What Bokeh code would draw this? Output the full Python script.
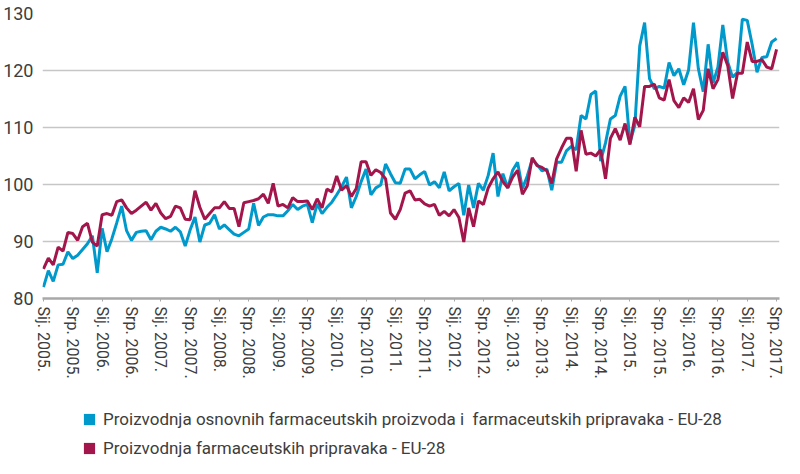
from bokeh.plotting import figure
from bokeh.layouts import column
from bokeh.models import Range1d, FixedTicker, Legend, LegendItem
from bokeh.embed import file_html
from bokeh.resources import INLINE

# ---- data -----------------------------------------------------------------
tick_labels = ["Sij. 2005.", "Srp. 2005.", "Sij. 2006.", "Srp. 2006.", "Sij. 2007.", "Srp. 2007.",
               "Sij. 2008.", "Srp. 2008.", "Sij. 2009.", "Srp. 2009.", "Sij. 2010.", "Srp. 2010.",
               "Sij. 2011.", "Srp. 2011.", "Sij. 2012.", "Srp. 2012.", "Sij. 2013.", "Srp. 2013.",
               "Sij. 2014.", "Srp. 2014.", "Sij. 2015.", "Srp. 2015.", "Sij. 2016.", "Srp. 2016.",
               "Sij. 2017.", "Srp. 2017."]

name_basic = "Proizvodnja osnovnih farmaceutskih proizvoda i  farmaceutskih pripravaka - EU-28"
name_prep = "Proizvodnja farmaceutskih pripravaka - EU-28"

# monthly index values, Jan 2005 .. Jul 2017
basic = [82.0, 84.9, 83.0, 85.9, 86.0, 88.2, 87.0, 87.6, 88.6, 89.6, 91.0, 84.5,
         92.3, 88.2, 90.5, 93.3, 96.2, 91.9, 90.2, 91.6, 91.8, 91.9, 90.3, 91.8,
         92.5, 92.2, 91.8, 92.5, 91.7, 89.2, 92.0, 94.3, 89.9, 92.9, 93.2, 94.7,
         92.2, 92.9, 92.1, 91.3, 91.0, 91.6, 92.2, 96.7, 92.8, 94.3, 94.7, 94.7,
         94.5, 94.5, 95.4, 96.5, 95.6, 96.2, 96.5, 93.3, 96.6, 94.9, 96.0, 96.9,
         98.2, 99.6, 101.3, 95.9, 97.9, 100.5, 102.7, 98.2, 99.4, 99.9, 103.6, 101.9,
         100.3, 100.2, 102.7, 102.7, 101.0, 101.7, 102.3, 99.9, 100.5, 99.4, 102.2, 98.9,
         99.6, 100.2, 94.6, 99.9, 95.9, 100.2, 99.0, 101.6, 105.5, 97.9, 101.9, 99.4,
         102.5, 103.9, 99.3, 101.5, 104.4, 103.5, 102.4, 102.7, 99.0, 103.9, 103.9, 105.9,
         106.7, 106.1, 112.1, 111.5, 115.8, 116.4, 104.1, 107.3, 111.5, 112.1, 115.5, 117.2,
         107.3, 110.4, 124.3, 128.4, 118.6, 116.8, 117.2, 116.9, 121.4, 119.1, 120.3, 117.5,
         120.1, 128.4, 120.3, 116.3, 124.6, 117.8, 120.6, 128.0, 121.5, 118.8, 119.7, 129.0,
         128.8, 124.6, 119.7, 122.3, 122.4, 125.0, 125.6]

prep = [85.2, 87.1, 85.9, 89.0, 88.3, 91.6, 91.4, 90.2, 92.6, 93.2, 89.9, 89.2,
        94.7, 94.9, 94.6, 97.0, 97.3, 95.9, 94.9, 95.5, 96.2, 96.9, 95.5, 96.7,
        95.0, 94.0, 94.4, 96.2, 95.9, 93.9, 93.8, 98.9, 96.0, 93.9, 94.9, 95.9,
        95.9, 97.0, 95.8, 95.8, 92.6, 96.8, 97.0, 97.2, 97.5, 98.3, 96.7, 100.2,
        96.2, 96.5, 95.9, 97.7, 97.0, 97.0, 97.1, 95.6, 97.5, 95.9, 99.2, 98.7,
        101.5, 99.0, 99.8, 97.9, 99.3, 104.0, 104.0, 101.6, 102.6, 102.1, 101.0, 95.0,
        93.9, 95.6, 98.5, 98.9, 97.3, 97.4, 96.6, 96.2, 96.5, 94.6, 95.3, 94.5,
        95.6, 94.2, 89.9, 95.9, 92.6, 97.1, 96.5, 99.4, 101.0, 102.2, 100.5, 99.4,
        101.3, 102.5, 98.3, 99.8, 104.7, 103.3, 103.0, 102.4, 100.2, 104.5, 106.4, 108.1,
        108.1, 102.3, 109.5, 105.3, 105.5, 105.0, 106.1, 101.0, 108.1, 109.8, 107.8, 110.7,
        107.0, 111.8, 110.1, 117.2, 117.2, 117.6, 115.2, 114.8, 118.4, 114.7, 113.5, 115.2,
        114.4, 116.8, 111.4, 113.0, 120.3, 116.8, 118.4, 123.2, 120.9, 115.1, 119.5, 119.5,
        125.0, 121.6, 121.6, 121.9, 120.6, 120.3, 123.7]

y_ticks = [80, 90, 100, 110, 120, 130]

months = list(range(len(basic)))
tick_pos = [6 * k for k in range(len(tick_labels))]

BLUE = "#0099CC"
RED = "#A3164B"
FONT = "Roboto"
TXT = "#3d3d3d"

p = figure(width=784, height=392, output_backend="svg", toolbar_location=None,
           x_range=Range1d(-0.2, 150.6), y_range=Range1d(80, 130),
           min_border_left=34, min_border_right=5, min_border_top=13, min_border_bottom=94)
p.outline_line_color = None
p.background_fill_color = "white"
p.border_fill_color = "white"

p.xgrid.visible = False
p.ygrid.grid_line_color = "#c6c6c6"
p.ygrid.grid_line_width = 1.5

p.yaxis.ticker = FixedTicker(ticks=y_ticks)
p.yaxis.axis_line_color = None
p.yaxis.major_tick_line_color = None
p.yaxis.minor_tick_line_color = None
p.yaxis.major_label_text_font = FONT
p.yaxis.major_label_text_font_size = "18px"
p.yaxis.major_label_text_color = TXT
p.yaxis.major_label_standoff = 3

p.xaxis.ticker = FixedTicker(ticks=tick_pos)
p.xaxis.major_label_overrides = {t: lab for t, lab in zip(tick_pos, tick_labels)}
p.xaxis.major_label_orientation = "vertical"
p.xaxis.axis_line_color = "#a8a8a8"
p.xaxis.axis_line_width = 2.5
p.xaxis.major_tick_line_color = "#a8a8a8"
p.xaxis.major_tick_out = 3
p.xaxis.major_tick_in = 0
p.xaxis.minor_tick_line_color = None
p.xaxis.major_label_text_font = FONT
p.xaxis.major_label_text_font_size = "16px"
p.xaxis.major_label_text_color = TXT
p.xaxis.major_label_standoff = 5

p.line(months, basic, line_color=BLUE, line_width=3)
p.line(months, prep, line_color=RED, line_width=3)

# ---- legend in its own strip below the chart --------------------------------
pl = figure(width=784, height=66, output_backend="svg", toolbar_location=None,
            x_range=Range1d(0, 1), y_range=Range1d(0, 1), min_border=0)
pl.axis.visible = False
pl.grid.visible = False
pl.outline_line_color = None
pl.border_fill_color = "white"

nan = float("nan")
# swatch renderers used only for the legend keys (nothing drawn in the strip)
sw_b = pl.quad(left=[nan], right=[nan], top=[nan], bottom=[nan], fill_color=BLUE, line_color=None)
sw_r = pl.quad(left=[nan], right=[nan], top=[nan], bottom=[nan], fill_color=RED, line_color=None)

legend = Legend(items=[LegendItem(label=name_basic, renderers=[sw_b]),
                       LegendItem(label=name_prep, renderers=[sw_r])],
                location=(40, 0), orientation="vertical",
                glyph_width=14, glyph_height=14, label_height=20, spacing=9,
                padding=0, margin=0, label_standoff=7,
                border_line_color=None, background_fill_alpha=0,
                label_text_font=FONT, label_text_font_size="17px", label_text_color=TXT)
pl.add_layout(legend)

layout = column(p, pl, spacing=0)
open("out.html", "w").write(file_html(layout, INLINE))
